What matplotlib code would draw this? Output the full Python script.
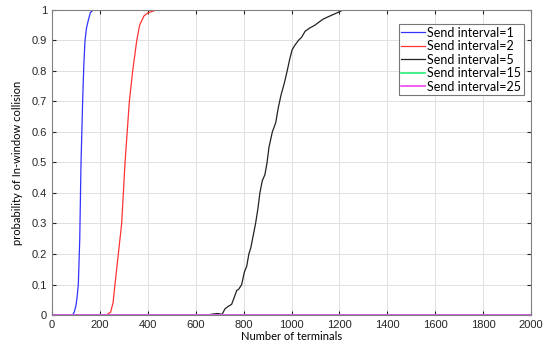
import numpy as np
import matplotlib.pyplot as plt

plt.rcParams['font.family'] = ['Liberation Sans', 'DejaVu Sans']

# values
x_si1 = [0, 86, 93, 100, 105, 110, 116, 121, 128, 133, 138, 144, 152, 160, 172, 2000]
y_si1 = [0, 0, 0.01, 0.03, 0.06, 0.1, 0.25, 0.49, 0.7, 0.82, 0.9, 0.94, 0.967, 0.99, 1, 1]

x_si2 = [0, 228, 245, 255, 263, 277, 291, 305, 314, 323, 337, 354, 366, 384, 400, 437, 2000]
y_si2 = [0, 0, 0.01, 0.04, 0.1, 0.2, 0.3, 0.5, 0.6, 0.7, 0.8, 0.9, 0.95, 0.98, 0.99, 1, 1]

x_si5 = [0, 646, 670, 690, 700, 710, 722, 735, 750, 762, 771, 780, 792, 803, 813, 822, 830,
         840, 850, 860, 868, 878, 889, 898, 906, 920, 934, 945, 956, 970, 982, 993, 1003,
         1015, 1029, 1042, 1057, 1075, 1098, 1115, 1133, 1155, 1175, 1195, 1216, 2000]
y_si5 = [0, 0, 0.003, 0.005, 0.004, 0.002, 0.02, 0.028, 0.035, 0.06, 0.08, 0.085, 0.1, 0.14, 0.16, 0.2, 0.22,
         0.26, 0.3, 0.35, 0.4, 0.44, 0.46, 0.5, 0.55, 0.6, 0.63, 0.68, 0.72, 0.76, 0.8, 0.84, 0.87,
         0.885, 0.9, 0.91, 0.93, 0.94, 0.95, 0.96, 0.97, 0.978, 0.985, 0.992, 1, 1]

x_si15 = [0, 2000]
y_si15 = [0, 0]
x_si25 = [0, 2000]
y_si25 = [0, 0]

fig = plt.figure(figsize=(5.5, 3.52), dpi=100)
ax = fig.add_axes([0.0945, 0.105, 0.871, 0.867])

ax.plot(x_si1, y_si1, color='#3333ff', lw=0.9, label='Send interval=1')
ax.plot(x_si2, y_si2, color='#ff3333', lw=0.9, label='Send interval=2')
ax.plot(x_si5, y_si5, color='#222222', lw=0.9, label='Send interval=5')
ax.plot(x_si15, y_si15, color='#22ee77', lw=1.2, label='Send interval=15')
ax.plot(x_si25, y_si25, color='#ee44ee', lw=1.2, label='Send interval=25')

ax.set_xlim(0, 2000)
ax.set_ylim(0, 1)
ax.set_xticks(np.arange(0, 2001, 200))
ax.set_yticks(np.arange(0, 1.01, 0.1))
ax.set_yticklabels(['0', '0.1', '0.2', '0.3', '0.4', '0.5', '0.6', '0.7', '0.8', '0.9', '1'])
ax.grid(True, color='#e0e0e0', lw=0.7)
ax.set_axisbelow(True)
ax.tick_params(direction='in', top=True, right=True, labelsize=8, colors='#262626', length=3)
for s in ax.spines.values():
    s.set_color('#808080')
    s.set_linewidth(0.8)

ax.set_xlabel('Number of terminals', fontsize=8, family=['Lato', 'DejaVu Sans'], labelpad=1)
ax.set_ylabel('probability of In-window collision', fontsize=8, family=['Lato', 'DejaVu Sans'], labelpad=6)

leg = ax.legend(loc='upper right', bbox_to_anchor=(0.993, 0.965), frameon=True,
                prop={'family': ['Liberation Sans Narrow', 'Lato', 'DejaVu Sans'], 'size': 9},
                fancybox=False, edgecolor='#555555', handlelength=1.9, handletextpad=0.2,
                labelspacing=0.12, borderpad=0.2, borderaxespad=0.3)
leg.get_frame().set_linewidth(0.8)

fig.savefig('out.png', dpi=100)
